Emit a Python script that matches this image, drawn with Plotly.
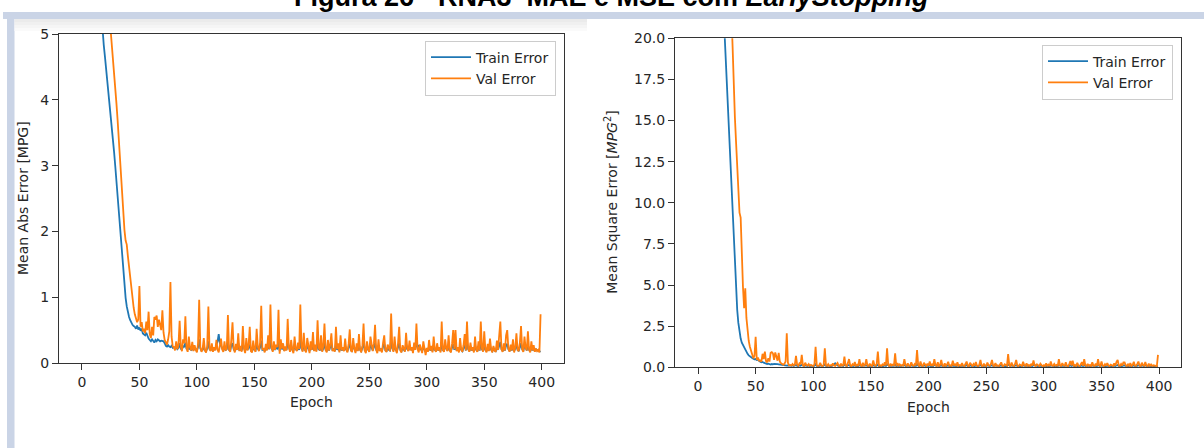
import plotly.graph_objects as go

# ---------------- data ----------------
train_mae = [
    22.6, 21.9, 21.2, 20.4, 19.5, 18.5, 17.4, 16.2, 14.9, 13.5, 12.1, 10.7, 9.4, 8.3, 7.4, 6.6, 5.9, 5.3,
    5.00, 4.83, 4.66, 4.49, 4.32, 4.15, 3.97, 3.79, 3.60, 3.40, 3.20, 2.99,
    2.77, 2.54, 2.30, 2.05, 1.80, 1.56, 1.34, 1.15, 0.99, 0.86,
    0.77, 0.70, 0.65, 0.61, 0.58, 0.56, 0.55, 0.52, 0.57, 0.51,
    0.54, 0.49, 0.52, 0.45, 0.43, 0.42, 0.46, 0.40, 0.37, 0.35,
    0.33, 0.36, 0.34, 0.31, 0.35, 0.33, 0.36, 0.34, 0.33, 0.34,
    0.34, 0.33, 0.30, 0.26, 0.25, 0.27, 0.25, 0.24, 0.26, 0.23,
    0.24, 0.22, 0.25, 0.21, 0.23, 0.30, 0.22, 0.20, 0.26, 0.24,
    0.31, 0.22, 0.20, 0.27, 0.21, 0.20, 0.25, 0.19, 0.23, 0.20,
    0.19, 0.24, 0.36, 0.22, 0.19, 0.20, 0.27, 0.19, 0.18, 0.22,
    0.33, 0.21, 0.19, 0.25, 0.19, 0.22, 0.20, 0.28, 0.33, 0.44,
    0.30, 0.26, 0.21, 0.19, 0.26, 0.20, 0.21, 0.32, 0.20, 0.19,
    0.27, 0.30, 0.21, 0.18, 0.24, 0.20, 0.30, 0.19, 0.22, 0.19,
    0.29, 0.21, 0.18, 0.26, 0.20, 0.23, 0.28, 0.19, 0.18, 0.25,
    0.20, 0.19, 0.27, 0.22, 0.19, 0.24, 0.34, 0.20, 0.21, 0.18,
    0.23, 0.20, 0.28, 0.21, 0.35, 0.22, 0.19, 0.25, 0.20, 0.23,
    0.22, 0.33, 0.18, 0.26, 0.21, 0.24, 0.19, 0.22, 0.20, 0.30,
    0.22, 0.19, 0.27, 0.20, 0.18, 0.29, 0.21, 0.19, 0.25, 0.20,
    0.36, 0.22, 0.19, 0.30, 0.20, 0.18, 0.27, 0.21, 0.18, 0.25,
    0.20, 0.31, 0.19, 0.23, 0.19, 0.33, 0.21, 0.19, 0.28, 0.18,
    0.22, 0.30, 0.20, 0.18, 0.26, 0.19, 0.23, 0.29, 0.19, 0.21,
    0.18, 0.30, 0.20, 0.24, 0.18, 0.28, 0.19, 0.22, 0.19, 0.26,
    0.20, 0.18, 0.24, 0.31, 0.19, 0.18, 0.27, 0.21, 0.18, 0.24,
    0.19, 0.29, 0.20, 0.18, 0.23, 0.32, 0.20, 0.18, 0.26, 0.20,
    0.18, 0.28, 0.22, 0.19, 0.24, 0.31, 0.20, 0.18, 0.27, 0.19,
    0.21, 0.18, 0.25, 0.29, 0.19, 0.18, 0.24, 0.20, 0.19, 0.35,
    0.22, 0.19, 0.28, 0.20, 0.18, 0.24, 0.30, 0.20, 0.18, 0.23,
    0.20, 0.18, 0.29, 0.21, 0.19, 0.26, 0.20, 0.22, 0.18, 0.25,
    0.21, 0.33, 0.24, 0.27, 0.23, 0.20, 0.18, 0.25, 0.19, 0.17,
    0.21, 0.18, 0.26, 0.19, 0.22, 0.18, 0.28, 0.20, 0.18, 0.24,
    0.19, 0.22, 0.18, 0.32, 0.20, 0.18, 0.26, 0.21, 0.19, 0.28,
    0.19, 0.18, 0.24, 0.29, 0.20, 0.28, 0.19, 0.22, 0.18, 0.26,
    0.20, 0.18, 0.23, 0.28, 0.19, 0.32, 0.21, 0.18, 0.25, 0.19,
    0.22, 0.18, 0.27, 0.20, 0.18, 0.25, 0.19, 0.31, 0.21, 0.18,
    0.28, 0.20, 0.18, 0.24, 0.19, 0.27, 0.20, 0.18, 0.23, 0.19,
    0.18, 0.25, 0.20, 0.28, 0.32, 0.21, 0.18, 0.24, 0.19, 0.27,
    0.29, 0.21, 0.18, 0.23, 0.19, 0.26, 0.18, 0.22, 0.28, 0.20,
    0.18, 0.24, 0.30, 0.21, 0.18, 0.27, 0.21, 0.19, 0.28, 0.20,
    0.18, 0.25, 0.19, 0.23, 0.18, 0.21, 0.19, 0.20, 0.18, 0.17,
]

val_mae = [
    22.4, 21.6, 20.8, 19.9, 19.0, 18.0, 16.9, 15.7, 14.5, 13.3, 12.2, 11.2, 10.3, 9.5, 8.8, 8.2,
    7.7, 7.3, 6.9, 6.6, 6.3, 6.05, 5.8, 5.55, 5.3, 5.05,
    4.85, 4.62, 4.40, 4.18, 3.95, 3.70, 3.42, 3.12, 2.82, 2.52, 2.22, 2.02, 1.86, 1.80,
    1.62, 1.45, 1.30, 1.14, 0.98, 0.84, 0.74, 0.68, 0.62, 0.66,
    1.17, 0.55, 0.62, 0.48, 0.52, 0.45, 0.63, 0.50, 0.78, 0.44,
    0.38, 0.55, 0.42, 0.70, 0.66, 0.72, 0.55, 0.66, 0.60, 0.50,
    0.80, 0.46, 0.35, 0.30, 0.28, 0.36, 0.48, 1.23, 0.40, 0.25,
    0.24, 0.19, 0.33, 0.21, 0.28, 0.64, 0.25, 0.18, 0.36, 0.30,
    0.71, 0.22, 0.17, 0.40, 0.24, 0.19, 0.32, 0.18, 0.27, 0.20,
    0.16, 0.29, 0.96, 0.24, 0.17, 0.21, 0.38, 0.19, 0.16, 0.25,
    0.86, 0.22, 0.18, 0.30, 0.17, 0.24, 0.19, 0.35, 0.20, 0.16,
    0.28, 0.37, 0.21, 0.17, 0.33, 0.19, 0.22, 0.73, 0.20, 0.17,
    0.36, 0.62, 0.23, 0.16, 0.29, 0.20, 0.45, 0.18, 0.26, 0.17,
    0.56, 0.22, 0.15, 0.38, 0.19, 0.27, 0.55, 0.18, 0.16, 0.34,
    0.21, 0.17, 0.52, 0.25, 0.18, 0.31, 0.87, 0.20, 0.23, 0.16,
    0.29, 0.19, 0.42, 0.21, 0.89, 0.24, 0.17, 0.33, 0.20, 0.28,
    0.24, 0.81, 0.14, 0.36, 0.22, 0.30, 0.18, 0.25, 0.19, 0.67,
    0.24, 0.17, 0.35, 0.20, 0.15, 0.40, 0.22, 0.18, 0.31, 0.21,
    0.89, 0.25, 0.17, 0.46, 0.20, 0.16, 0.38, 0.24, 0.15, 0.33,
    0.20, 0.47, 0.18, 0.28, 0.17, 0.65, 0.23, 0.19, 0.42, 0.17,
    0.26, 0.60, 0.20, 0.16, 0.35, 0.19, 0.28, 0.45, 0.18, 0.22,
    0.17, 0.55, 0.21, 0.30, 0.16, 0.42, 0.19, 0.24, 0.18, 0.37,
    0.20, 0.16, 0.29, 0.51, 0.19, 0.17, 0.38, 0.22, 0.15, 0.30,
    0.18, 0.44, 0.20, 0.16, 0.26, 0.60, 0.19, 0.15, 0.33, 0.21,
    0.17, 0.40, 0.24, 0.18, 0.29, 0.58, 0.20, 0.15, 0.36, 0.18,
    0.22, 0.16, 0.31, 0.42, 0.19, 0.17, 0.28, 0.21, 0.18, 0.75,
    0.23, 0.17, 0.40, 0.20, 0.15, 0.30, 0.55, 0.19, 0.16, 0.27,
    0.20, 0.17, 0.46, 0.22, 0.18, 0.34, 0.19, 0.24, 0.15, 0.31,
    0.20, 0.60, 0.21, 0.16, 0.28, 0.19, 0.15, 0.33, 0.18, 0.12,
    0.23, 0.17, 0.35, 0.19, 0.26, 0.16, 0.40, 0.21, 0.17, 0.30,
    0.19, 0.24, 0.16, 0.63, 0.20, 0.17, 0.36, 0.22, 0.18, 0.42,
    0.19, 0.16, 0.29, 0.50, 0.21, 0.50, 0.18, 0.24, 0.16, 0.38,
    0.20, 0.17, 0.27, 0.44, 0.19, 0.63, 0.22, 0.17, 0.31, 0.19,
    0.24, 0.16, 0.40, 0.20, 0.17, 0.33, 0.19, 0.63, 0.22, 0.17,
    0.48, 0.20, 0.16, 0.29, 0.18, 0.37, 0.21, 0.16, 0.26, 0.19,
    0.17, 0.34, 0.20, 0.45, 0.63, 0.21, 0.17, 0.30, 0.19, 0.42,
    0.50, 0.22, 0.17, 0.28, 0.19, 0.36, 0.16, 0.24, 0.45, 0.20,
    0.18, 0.31, 0.56, 0.21, 0.17, 0.40, 0.23, 0.19, 0.48, 0.20,
    0.16, 0.33, 0.19, 0.27, 0.17, 0.22, 0.18, 0.20, 0.16, 0.74,
]

train_mse = [
    490, 440, 392, 345, 300, 256, 216, 180, 148, 120, 98, 80, 66, 56, 48, 42, 37, 33, 30, 27.5, 25.4, 23.6, 21.9,
    20.3, 18.7, 17.1, 15.5, 13.9, 12.2, 10.5, 8.9, 7.4, 5.9, 4.6, 3.5, 2.7, 2.1, 1.75, 1.5, 1.35,
    1.25, 1.10, 0.95, 0.82, 0.72, 0.65, 0.60, 0.56, 0.52, 0.48,
    0.50, 0.44, 0.46, 0.38, 0.34, 0.31, 0.33, 0.28, 0.24, 0.22,
    0.20, 0.22, 0.19, 0.17, 0.20, 0.18, 0.21, 0.19, 0.18, 0.19,
    0.18, 0.17, 0.15, 0.12, 0.11, 0.13, 0.11, 0.10, 0.12, 0.09,
    0.10, 0.09, 0.11, 0.08, 0.10, 0.14, 0.09, 0.08, 0.12, 0.10,
    0.15, 0.09, 0.08, 0.12, 0.08, 0.08, 0.11, 0.07, 0.10, 0.08,
    0.07, 0.10, 0.19, 0.09, 0.07, 0.08, 0.12, 0.07, 0.07, 0.09,
    0.17, 0.08, 0.07, 0.11, 0.07, 0.09, 0.08, 0.13, 0.16, 0.24,
    0.14, 0.11, 0.08, 0.07, 0.11, 0.08, 0.08, 0.15, 0.08, 0.07,
    0.12, 0.14, 0.08, 0.06, 0.10, 0.08, 0.14, 0.07, 0.09, 0.07,
    0.13, 0.08, 0.06, 0.11, 0.08, 0.10, 0.12, 0.07, 0.06, 0.10,
    0.08, 0.07, 0.12, 0.09, 0.07, 0.10, 0.17, 0.08, 0.08, 0.07,
    0.09, 0.08, 0.12, 0.08, 0.18, 0.09, 0.07, 0.10, 0.08, 0.09,
    0.09, 0.16, 0.06, 0.11, 0.08, 0.10, 0.07, 0.09, 0.08, 0.13,
    0.09, 0.07, 0.12, 0.08, 0.06, 0.13, 0.08, 0.07, 0.10, 0.08,
    0.19, 0.09, 0.07, 0.13, 0.08, 0.07, 0.11, 0.08, 0.06, 0.10,
    0.08, 0.13, 0.07, 0.09, 0.07, 0.15, 0.08, 0.07, 0.12, 0.07,
    0.09, 0.13, 0.08, 0.06, 0.10, 0.07, 0.09, 0.12, 0.07, 0.08,
    0.07, 0.13, 0.08, 0.10, 0.06, 0.12, 0.07, 0.09, 0.07, 0.10,
    0.08, 0.06, 0.10, 0.13, 0.07, 0.06, 0.11, 0.08, 0.06, 0.10,
    0.07, 0.12, 0.08, 0.06, 0.09, 0.14, 0.08, 0.06, 0.10, 0.08,
    0.07, 0.12, 0.09, 0.07, 0.10, 0.13, 0.08, 0.06, 0.11, 0.07,
    0.08, 0.06, 0.10, 0.12, 0.07, 0.06, 0.09, 0.08, 0.07, 0.16,
    0.09, 0.07, 0.12, 0.08, 0.06, 0.10, 0.13, 0.08, 0.06, 0.09,
    0.08, 0.06, 0.12, 0.08, 0.07, 0.10, 0.08, 0.09, 0.06, 0.10,
    0.08, 0.14, 0.10, 0.11, 0.09, 0.08, 0.06, 0.10, 0.07, 0.06,
    0.08, 0.07, 0.10, 0.07, 0.09, 0.06, 0.11, 0.08, 0.07, 0.09,
    0.07, 0.08, 0.06, 0.14, 0.08, 0.06, 0.10, 0.08, 0.07, 0.11,
    0.07, 0.06, 0.09, 0.12, 0.08, 0.12, 0.07, 0.08, 0.06, 0.10,
    0.08, 0.06, 0.09, 0.11, 0.07, 0.14, 0.08, 0.06, 0.10, 0.07,
    0.08, 0.06, 0.11, 0.08, 0.06, 0.10, 0.07, 0.13, 0.08, 0.06,
    0.11, 0.08, 0.06, 0.09, 0.07, 0.10, 0.08, 0.06, 0.09, 0.07,
    0.06, 0.10, 0.08, 0.11, 0.14, 0.08, 0.06, 0.09, 0.07, 0.11,
    0.12, 0.08, 0.06, 0.09, 0.07, 0.10, 0.06, 0.08, 0.12, 0.08,
    0.07, 0.09, 0.13, 0.08, 0.06, 0.11, 0.08, 0.07, 0.12, 0.08,
    0.06, 0.10, 0.07, 0.09, 0.06, 0.08, 0.07, 0.08, 0.06, 0.06,
]

val_mse = [
    500, 465, 430, 395, 360, 325, 290, 256, 224, 194, 166, 141, 119, 100, 84, 71, 60, 51, 44, 38.5,
    34, 31.5, 29.5, 27.8, 26.4, 25.2, 24.2, 23.3, 22.5, 21.5, 19.5,
    16.8, 15.2, 13.7, 12.2, 10.8, 9.4, 9.1, 6.3, 4.9,
    3.6, 4.8, 3.0, 2.2, 1.6, 1.25, 1.05, 0.80, 0.55, 0.70,
    1.86, 0.45, 0.60, 0.40, 0.42, 0.35, 0.82, 0.50, 0.95, 0.38,
    0.30, 0.55, 0.35, 0.88, 0.92, 0.85, 0.45, 0.90, 0.60, 0.40,
    0.88, 0.35, 0.25, 0.18, 0.15, 0.22, 0.35, 2.07, 0.28, 0.12,
    0.14, 0.10, 0.20, 0.11, 0.16, 0.70, 0.15, 0.09, 0.25, 0.18,
    0.75, 0.12, 0.08, 0.28, 0.13, 0.10, 0.20, 0.09, 0.15, 0.10,
    0.08, 0.17, 1.25, 0.13, 0.08, 0.11, 0.27, 0.10, 0.08, 0.14,
    1.15, 0.12, 0.09, 0.19, 0.08, 0.13, 0.10, 0.24, 0.11, 0.08,
    0.16, 0.26, 0.11, 0.08, 0.22, 0.10, 0.12, 0.65, 0.11, 0.08,
    0.25, 0.50, 0.13, 0.07, 0.18, 0.10, 0.32, 0.09, 0.15, 0.08,
    0.50, 0.12, 0.07, 0.27, 0.10, 0.16, 0.50, 0.09, 0.08, 0.22,
    0.11, 0.08, 0.42, 0.14, 0.09, 0.20, 0.95, 0.10, 0.13, 0.08,
    0.17, 0.09, 0.30, 0.11, 1.15, 0.14, 0.08, 0.22, 0.10, 0.16,
    0.12, 0.85, 0.07, 0.25, 0.11, 0.18, 0.09, 0.14, 0.10, 0.50,
    0.13, 0.08, 0.24, 0.10, 0.07, 0.30, 0.12, 0.09, 0.20, 0.11,
    1.05, 0.14, 0.08, 0.35, 0.10, 0.07, 0.27, 0.13, 0.07, 0.22,
    0.10, 0.36, 0.09, 0.17, 0.08, 0.50, 0.13, 0.09, 0.30, 0.08,
    0.15, 0.45, 0.10, 0.07, 0.24, 0.09, 0.17, 0.33, 0.09, 0.12,
    0.08, 0.40, 0.11, 0.19, 0.07, 0.30, 0.09, 0.14, 0.09, 0.26,
    0.10, 0.07, 0.18, 0.35, 0.09, 0.08, 0.27, 0.12, 0.07, 0.20,
    0.09, 0.32, 0.10, 0.07, 0.15, 0.45, 0.09, 0.07, 0.22, 0.11,
    0.08, 0.29, 0.13, 0.09, 0.19, 0.45, 0.10, 0.07, 0.25, 0.09,
    0.12, 0.07, 0.21, 0.30, 0.09, 0.08, 0.18, 0.11, 0.09, 0.80,
    0.13, 0.08, 0.29, 0.10, 0.07, 0.20, 0.45, 0.09, 0.07, 0.17,
    0.10, 0.08, 0.34, 0.12, 0.09, 0.23, 0.09, 0.14, 0.07, 0.21,
    0.10, 0.42, 0.12, 0.08, 0.18, 0.09, 0.07, 0.22, 0.09, 0.05,
    0.13, 0.08, 0.24, 0.09, 0.16, 0.07, 0.35, 0.11, 0.08, 0.20,
    0.09, 0.14, 0.07, 0.50, 0.10, 0.08, 0.25, 0.12, 0.09, 0.30,
    0.09, 0.07, 0.19, 0.38, 0.11, 0.40, 0.09, 0.14, 0.07, 0.27,
    0.10, 0.08, 0.17, 0.32, 0.09, 0.50, 0.12, 0.08, 0.21, 0.09,
    0.14, 0.07, 0.30, 0.10, 0.08, 0.22, 0.09, 0.50, 0.12, 0.08,
    0.36, 0.10, 0.07, 0.19, 0.09, 0.26, 0.11, 0.07, 0.16, 0.09,
    0.08, 0.24, 0.10, 0.33, 0.45, 0.11, 0.08, 0.20, 0.09, 0.30,
    0.30, 0.12, 0.08, 0.18, 0.09, 0.25, 0.07, 0.14, 0.33, 0.10,
    0.09, 0.21, 0.35, 0.11, 0.08, 0.28, 0.13, 0.09, 0.32, 0.10,
    0.07, 0.22, 0.09, 0.17, 0.08, 0.12, 0.09, 0.10, 0.07, 0.75,
]

x_ticks = [0, 50, 100, 150, 200, 250, 300, 350, 400]
mae_ticks = [0, 1, 2, 3, 4, 5]
mse_ticks = [0.0, 2.5, 5.0, 7.5, 10.0, 12.5, 15.0, 17.5, 20.0]

title_text = "<b>Figura 26 - RNA3  MAE e MSE com <i>EarlyStopping</i></b>"

# ---------------- figure ----------------
W, H = 1204, 448
BLUE, ORANGE = "#1f77b4", "#ff7f0e"
FONT = "DejaVu Sans"
LW = 1.8


def px_x(p):
    return p / W


def px_y(p):
    return 1 - p / H


fig = go.Figure()
fig.add_trace(go.Scatter(x=list(range(len(train_mae))), y=train_mae, mode="lines", name="Train Error",
                         line=dict(color=BLUE, width=LW), xaxis="x", yaxis="y",
                         legend="legend", legendgroup="a"))
fig.add_trace(go.Scatter(x=list(range(len(val_mae))), y=val_mae, mode="lines", name="Val Error",
                         line=dict(color=ORANGE, width=LW), xaxis="x", yaxis="y",
                         legend="legend", legendgroup="b"))
fig.add_trace(go.Scatter(x=list(range(len(train_mse))), y=train_mse, mode="lines", name="Train Error",
                         line=dict(color=BLUE, width=LW), xaxis="x2", yaxis="y2",
                         legend="legend2", legendgroup="c"))
fig.add_trace(go.Scatter(x=list(range(len(val_mse))), y=val_mse, mode="lines", name="Val Error",
                         line=dict(color=ORANGE, width=LW), xaxis="x2", yaxis="y2",
                         legend="legend2", legendgroup="d"))

axis_common = dict(showline=True, mirror=True, linecolor="#333333", linewidth=1,
                   ticks="outside", ticklen=6, tickcolor="#333333", tickwidth=1,
                   showgrid=False, zeroline=False, automargin=False,
                   tickfont=dict(family=FONT, size=14, color="#262626"))

legend_common = dict(bgcolor="white", bordercolor="#cccccc", borderwidth=1,
                     font=dict(family=FONT, size=14, color="#262626"),
                     tracegroupgap=0, xanchor="right", yanchor="top",
                     itemwidth=40)

fig.update_layout(
    width=W, height=H,
    margin=dict(l=0, r=0, t=0, b=0, pad=0, autoexpand=False),
    paper_bgcolor="white", plot_bgcolor="white",
    xaxis=dict(domain=[px_x(59), px_x(563.5)], range=[-19.95, 418.95], tickvals=x_ticks,
               anchor="y", **axis_common),
    yaxis=dict(domain=[px_y(363), px_y(34)], range=[0, 5], tickvals=mae_ticks,
               anchor="x", **axis_common),
    xaxis2=dict(domain=[px_x(675), px_x(1181)], range=[-19.95, 418.95], tickvals=x_ticks,
                anchor="y2", **axis_common),
    yaxis2=dict(domain=[px_y(367.3), px_y(38.3)], range=[0, 20], tickvals=mse_ticks,
                tickformat=".1f", anchor="x2", **axis_common),
    legend=dict(x=px_x(556), y=px_y(40.5), **legend_common),
    legend2=dict(x=px_x(1173), y=px_y(44.5), **legend_common),
    showlegend=True,
)

# page decoration (document frame around the chart)
FRAME = "#cad4e6"
fig.add_shape(type="rect", xref="paper", yref="paper", x0=px_x(3), x1=1, y0=px_y(19), y1=px_y(12),
              fillcolor=FRAME, line=dict(width=0), layer="below")
fig.add_shape(type="rect", xref="paper", yref="paper", x0=px_x(7), x1=px_x(14.5), y0=0, y1=px_y(12),
              fillcolor=FRAME, line=dict(width=0), layer="below")
for (a, b, c) in [(19, 22, "#ebebeb"), (22, 25, "#f0f0f0"), (25, 28, "#f5f5f5"), (28, 31, "#fafafa")]:
    fig.add_shape(type="rect", xref="paper", yref="paper", x0=px_x(14.5), x1=px_x(587),
                  y0=px_y(b), y1=px_y(a), fillcolor=c, line=dict(width=0), layer="below")

annots = [
    dict(text=title_text, x=px_x(611), y=px_y(-3), xanchor="center", yanchor="middle",
         font=dict(family="Liberation Sans", size=27, color="black")),
    dict(text="Mean Abs Error [MPG]", x=px_x(22.5), y=px_y(198.5), textangle=-90,
         xanchor="center", yanchor="middle", font=dict(family=FONT, size=14, color="#262626")),
    dict(text="Mean Square Error [<i>MPG</i><sup>2</sup>]", x=px_x(611), y=px_y(202.8), textangle=-90,
         xanchor="center", yanchor="middle", font=dict(family=FONT, size=14, color="#262626")),
    dict(text="Epoch", x=px_x(311), y=px_y(402), xanchor="center", yanchor="middle",
         font=dict(family=FONT, size=14, color="#262626")),
    dict(text="Epoch", x=px_x(928), y=px_y(407), xanchor="center", yanchor="middle",
         font=dict(family=FONT, size=14, color="#262626")),
]
for a in annots:
    fig.add_annotation(xref="paper", yref="paper", showarrow=False, **a)

fig.write_html("out.html")
